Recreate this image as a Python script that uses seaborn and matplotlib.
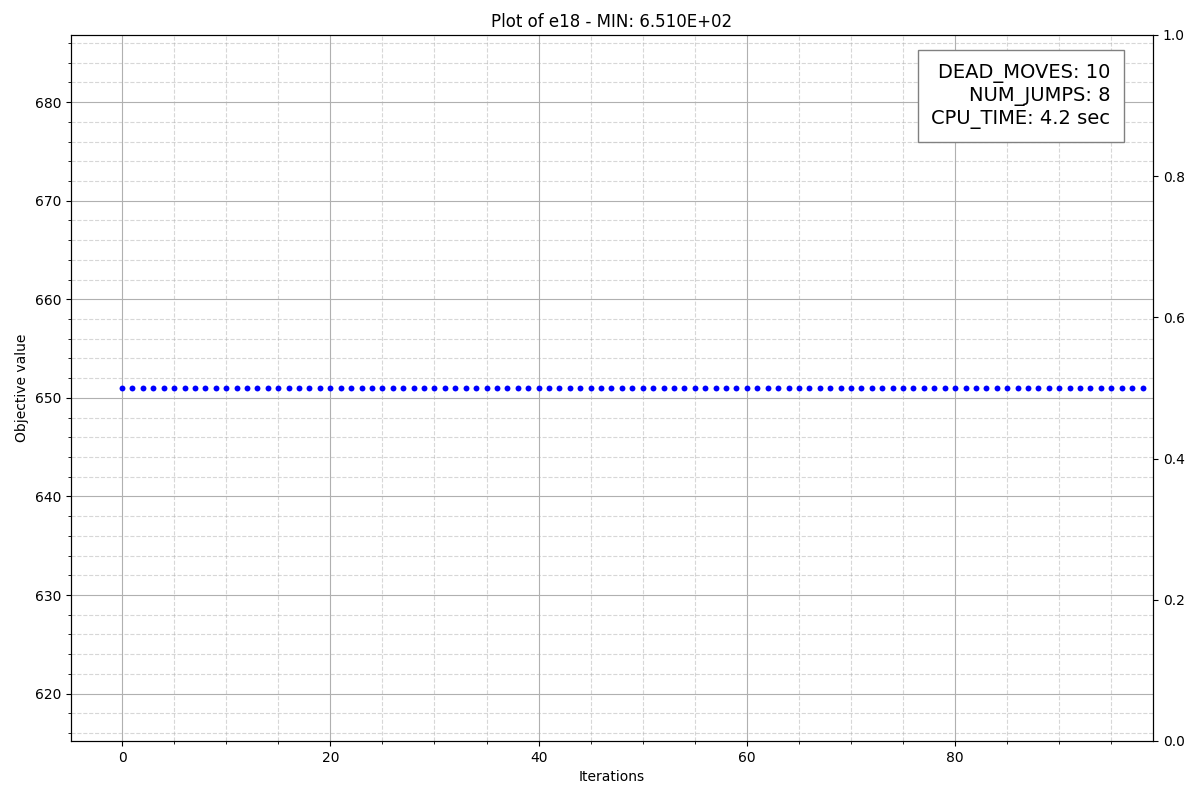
import matplotlib
matplotlib.use('Agg')
import matplotlib.pyplot as plt
from matplotlib.ticker import MultipleLocator
import seaborn as sns
import pandas as pd

# objective value per iteration (flat at the minimum)
iterations = list(range(99))
objective = [651.0] * 99

dead_moves = 10
num_jumps = 8
cpu_time = 4.2
best = min(objective)

df = pd.DataFrame({'Iterations': iterations, 'Objective value': objective})

fig, ax = plt.subplots(figsize=(12, 8), dpi=100)
sns.scatterplot(data=df, x='Iterations', y='Objective value', ax=ax,
                color='blue', s=18, linewidth=0, zorder=3)

ax.set_xlim(-4.9, 99)
ax.xaxis.set_minor_locator(MultipleLocator(5))
ax.yaxis.set_minor_locator(MultipleLocator(2))
ax.grid(which='major', color='#b0b0b0', linestyle='-', linewidth=0.8)
ax.grid(which='minor', color='#b0b0b0', linestyle='--', linewidth=0.8, alpha=0.5)
ax.set_axisbelow(True)

ax.set_title(f"Plot of e18 - MIN: {best:.3E}")
ax.set_xlabel("Iterations")
ax.set_ylabel("Objective value")

info = f"DEAD_MOVES: {dead_moves}\nNUM_JUMPS: {num_jumps}\nCPU_TIME: {cpu_time} sec"
ax.text(0.9606, 0.9595, info, transform=ax.transAxes, fontsize=14,
        ha='right', va='top', multialignment='right', zorder=5,
        bbox=dict(boxstyle='square,pad=0.7', facecolor='white', edgecolor='gray'))

ax2 = ax.twinx()

fig.subplots_adjust(left=0.0592, right=0.9608, top=0.95625, bottom=0.07375)
plt.savefig("out.png")
